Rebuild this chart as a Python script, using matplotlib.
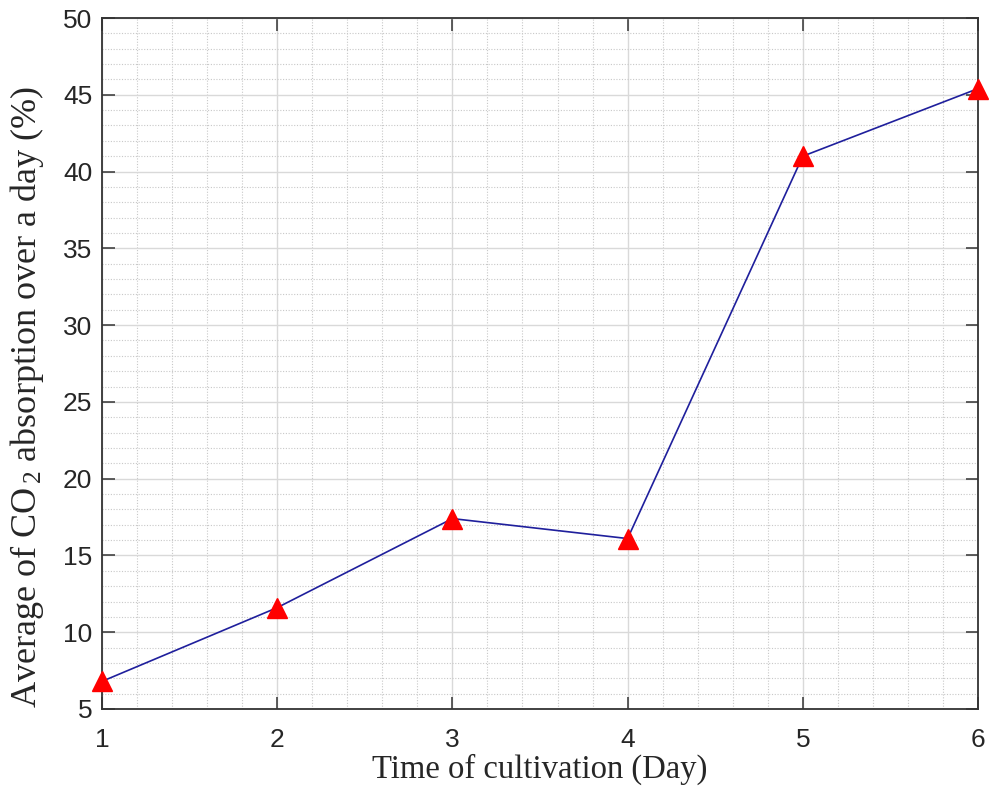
import matplotlib
matplotlib.use("Agg")
import matplotlib.pyplot as plt
from matplotlib.ticker import MultipleLocator

plt.rcParams['mathtext.fontset'] = 'custom'
plt.rcParams['mathtext.rm'] = 'Liberation Serif'
plt.rcParams['mathtext.it'] = 'Liberation Serif'

days = [1, 2, 3, 4, 5, 6]
co2_absorption = [6.8, 11.6, 17.4, 16.1, 41.0, 45.4]
x_ticks = [1, 2, 3, 4, 5, 6]
y_ticks = [5, 10, 15, 20, 25, 30, 35, 40, 45, 50]

fig = plt.figure(figsize=(9.89, 7.93), dpi=100)
ax = fig.add_axes([102/989, 1 - 709/793, (978-102)/989, (709-18)/793])

ax.plot(days, co2_absorption, color='#1f1f9c', linewidth=1.2, zorder=3)
ax.plot(days, co2_absorption, linestyle='none', marker='^', markersize=14,
        color='#ff0000', markeredgecolor='#ff0000', zorder=4, clip_on=False)

ax.set_xlim(1, 6)
ax.set_ylim(5, 50)
ax.set_xticks(x_ticks)
ax.set_yticks(y_ticks)
ax.xaxis.set_minor_locator(MultipleLocator(0.2))
ax.yaxis.set_minor_locator(MultipleLocator(1))

ax.grid(which='major', color='#d9d9d9', linewidth=1.0, linestyle='-', zorder=0)
ax.grid(which='minor', color='#c8c8c8', linewidth=0.8, linestyle=(0, (1, 1.5)), zorder=0)
ax.set_axisbelow(True)

for s in ax.spines.values():
    s.set_color('#333333')
    s.set_linewidth(1.3)

ax.tick_params(which='major', direction='in', length=9, width=1.1, color='#333333',
               top=True, right=True, labelsize=19, labelcolor='#262626')
ax.tick_params(axis='x', which='major', pad=14)
ax.tick_params(axis='y', which='major', pad=7)
ax.tick_params(which='minor', length=0, top=True, right=True)
for lab in ax.get_xticklabels() + ax.get_yticklabels():
    lab.set_fontfamily('Liberation Sans')

ax.set_xlabel('Time of cultivation (Day)', fontfamily='Liberation Serif', fontsize=23.5,
              color='#262626', labelpad=1)
ax.set_ylabel(r'Average of CO$_{\,\mathregular{2}}$ absorption over a day (%)',
              fontfamily='Liberation Serif', fontsize=26, color='#262626')
ax.yaxis.set_label_coords(-0.064, 0.452)

fig.savefig('out.png', dpi=100)
